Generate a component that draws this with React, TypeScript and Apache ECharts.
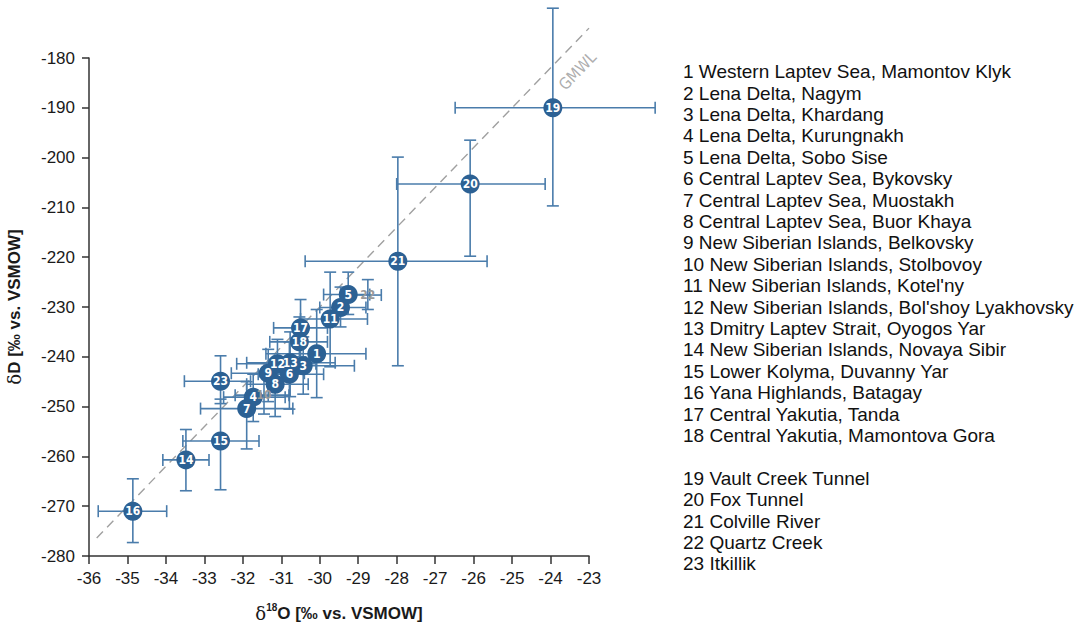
import React, { useEffect, useRef } from "react";
import * as echarts from "echarts";

// ---- data ----
const siteIds = ["1","2","3","4","5","6","7","8","9","10","11","12","13","14","15","16","17","18","19","20","21","22","23"];
const siteNames = [
  "Western Laptev Sea, Mamontov Klyk",
  "Lena Delta, Nagym",
  "Lena Delta, Khardang",
  "Lena Delta, Kurungnakh",
  "Lena Delta, Sobo Sise",
  "Central Laptev Sea, Bykovsky",
  "Central Laptev Sea, Muostakh",
  "Central Laptev Sea, Buor Khaya",
  "New Siberian Islands, Belkovsky",
  "New Siberian Islands, Stolbovoy",
  "New Siberian Islands, Kotel'ny",
  "New Siberian Islands, Bol'shoy Lyakhovsky",
  "Dmitry Laptev Strait, Oyogos Yar",
  "New Siberian Islands, Novaya Sibir",
  "Lower Kolyma, Duvanny Yar",
  "Yana Highlands, Batagay",
  "Central Yakutia, Tanda",
  "Central Yakutia, Mamontova Gora",
  "Vault Creek Tunnel",
  "Fox Tunnel",
  "Colville River",
  "Quartz Creek",
  "Itkillik",
];
const d18O = [-30.08, -29.46, -30.43, -31.73, -29.26, -30.79, -31.9, -31.16, -31.34, -31.45, -29.73, -31.1, -30.77, -33.48, -32.58, -34.86, -30.5, -30.53, -23.94, -26.09, -27.97, -28.75, -32.58];
const dD = [-239.4, -230.1, -241.8, -248.1, -227.5, -243.5, -250.4, -245.5, -243.3, -247.7, -232.4, -241.4, -241.2, -260.7, -256.9, -271.0, -234.2, -237.0, -190.0, -205.3, -220.8, -227.6, -244.9];
const d18OLow = [-31.4, -30.0, -31.2, -32.5, -29.9, -31.6, -33.1, -31.9, -32.3, -32.2, -30.5, -32.16, -31.9, -34.08, -33.56, -35.76, -31.2, -31.3, -26.48, -28.0, -30.38, -29.2, -33.52];
const d18OHigh = [-28.8, -28.8, -29.1, -30.9, -28.7, -29.9, -30.7, -30.3, -30.4, -30.8, -28.76, -30.1, -29.6, -32.88, -31.58, -33.98, -29.8, -29.8, -21.28, -24.14, -25.65, -28.4, -31.8];
const dDLow = [-248.2, -234.0, -247.5, -253.0, -231.5, -250.5, -258.5, -252.0, -249.0, -251.5, -242.0, -246.0, -248.0, -266.9, -266.7, -277.3, -240.0, -242.5, -209.7, -219.8, -241.8, -230.5, -249.4];
const dDHigh = [-230.5, -226.0, -236.0, -243.5, -223.0, -237.0, -245.0, -240.5, -238.5, -244.0, -223.0, -236.5, -235.0, -254.6, -248.5, -264.5, -228.5, -232.0, -170.0, -196.5, -199.9, -224.5, -239.8];
const grayLabelIds = ["10", "22"];

const xMin = -36, xMax = -23, xStep = 1;
const yMin = -280, yMax = -180, yStep = 10;

const gmwlX = [-35.8, -23.0];
const gmwlY = [-276.4, -174.0];
const gmwlLabelPos = [-23.3, -182.6];
const gmwlText = "GMWL";

const markerColor = "#2c6194";
const barColor = "#4a7cab";

export default function App() {
  const ref = useRef<HTMLDivElement>(null);

  useEffect(() => {
    if (!ref.current) return;
    const chart = echarts.init(ref.current, undefined, { renderer: "svg" });

    const barData = siteIds.map((id, i) => [d18O[i], dD[i], d18OLow[i], d18OHigh[i], dDLow[i], dDHigh[i]]);
    const pointData = siteIds.map((id, i) => {
      const gray = grayLabelIds.includes(id);
      return {
        name: id,
        value: [d18O[i], dD[i]],
        symbolSize: gray ? 0 : 19,
        label: gray ? { color: "#9a9a9a" } : undefined,
      };
    });

    const legendLines: string[] = [];
    siteIds.forEach((id, i) => {
      if (id === "19") legendLines.push("");
      legendLines.push(id + " " + siteNames[i]);
    });

    const cap = 6;
    const font = "Liberation Sans, Arial, sans-serif";
    const option: any = {
      animation: false,
      backgroundColor: "#ffffff",
      grid: { left: 89, top: 58, width: 500, height: 502 },
      xAxis: {
        type: "value",
        min: xMin,
        max: xMax,
        interval: xStep,
        splitLine: { show: false },
        axisLine: { onZero: false, lineStyle: { color: "#333", width: 1.5 } },
        axisTick: { length: 8, lineStyle: { color: "#333", width: 1.5 } },
        axisLabel: { color: "#1a1a1a", fontSize: 17, fontFamily: font, margin: 14 },
        name: "{d|δ}{s|18}{b|O [‰ vs. VSMOW]}",
        nameLocation: "middle",
        nameGap: 46,
        nameTextStyle: {
          rich: {
            d: { fontSize: 18, fontFamily: "DejaVu Serif, serif", color: "#1a1a1a", lineHeight: 22 },
            s: { fontSize: 10, fontWeight: "bold", fontFamily: font, color: "#1a1a1a", verticalAlign: "top", lineHeight: 22 },
            b: { fontSize: 17, fontWeight: "bold", fontFamily: font, color: "#1a1a1a", lineHeight: 22 },
          },
        },
      },
      yAxis: {
        type: "value",
        min: yMin,
        max: yMax,
        interval: yStep,
        splitLine: { show: false },
        axisLine: { onZero: false, lineStyle: { color: "#333", width: 1.5 } },
        axisTick: { length: 7, lineStyle: { color: "#333", width: 1.5 } },
        axisLabel: { color: "#1a1a1a", fontSize: 17, fontFamily: font, margin: 14 },
        name: "{d|δ}{b|D [‰ vs. VSMOW]}",
        nameLocation: "middle",
        nameGap: 66,
        nameRotate: 90,
        nameTextStyle: {
          rich: {
            d: { fontSize: 18, fontFamily: "DejaVu Serif, serif", color: "#1a1a1a" },
            b: { fontSize: 17, fontWeight: "bold", fontFamily: font, color: "#1a1a1a" },
          },
        },
      },
      graphic: [
        {
          type: "text",
          left: 683,
          top: 61,
          style: {
            text: legendLines.join("\n"),
            fontSize: 19,
            lineHeight: 21.4,
            fontFamily: font,
            fill: "#111",
          },
        },
      ],
      series: [
        {
          type: "line",
          data: gmwlX.map((x, i) => [x, gmwlY[i]]),
          showSymbol: false,
          symbol: "none",
          clip: false,
          silent: true,
          lineStyle: { color: "#a0a0a0", width: 1.4, type: [9, 6] },
          z: 1,
        },
        {
          type: "scatter",
          data: [{ value: gmwlLabelPos, name: gmwlText }],
          symbolSize: 0,
          clip: false,
          label: {
            show: true,
            position: "inside",
            formatter: "{b}",
            rotate: 46,
            color: "#999",
            fontSize: 16,
            fontFamily: "DejaVu Sans Condensed, DejaVu Sans, sans-serif",
          },
          z: 1,
        },
        {
          type: "custom",
          data: barData,
          clip: false,
          z: 2,
          renderItem: (params: any, api: any) => {
            const x = api.value(0), y = api.value(1);
            const pL = api.coord([api.value(2), y]);
            const pR = api.coord([api.value(3), y]);
            const pB = api.coord([x, api.value(4)]);
            const pT = api.coord([x, api.value(5)]);
            const style = { stroke: barColor, lineWidth: 1.6, fill: null };
            return {
              type: "group",
              children: [
                { type: "line", shape: { x1: pL[0], y1: pL[1], x2: pR[0], y2: pR[1] }, style },
                { type: "line", shape: { x1: pL[0], y1: pL[1] - cap, x2: pL[0], y2: pL[1] + cap }, style },
                { type: "line", shape: { x1: pR[0], y1: pR[1] - cap, x2: pR[0], y2: pR[1] + cap }, style },
                { type: "line", shape: { x1: pT[0], y1: pT[1], x2: pB[0], y2: pB[1] }, style },
                { type: "line", shape: { x1: pT[0] - cap, y1: pT[1], x2: pT[0] + cap, y2: pT[1] }, style },
                { type: "line", shape: { x1: pB[0] - cap, y1: pB[1], x2: pB[0] + cap, y2: pB[1] }, style },
              ],
            };
          },
        },
        {
          type: "scatter",
          data: pointData,
          clip: false,
          z: 3,
          itemStyle: { color: markerColor, opacity: 1 },
          label: {
            show: true,
            position: "inside",
            formatter: "{b}",
            color: "#ffffff",
            fontSize: 12,
            fontWeight: "bold",
            fontFamily: "DejaVu Sans Condensed, DejaVu Sans, sans-serif",
          },
        },
      ],
    };
    chart.setOption(option);
    return () => chart.dispose();
  }, []);

  return (
    <div
      ref={ref}
      style={{ position: "fixed", left: 0, top: 0, width: 1079, height: 627, background: "#fff" }}
    />
  );
}
